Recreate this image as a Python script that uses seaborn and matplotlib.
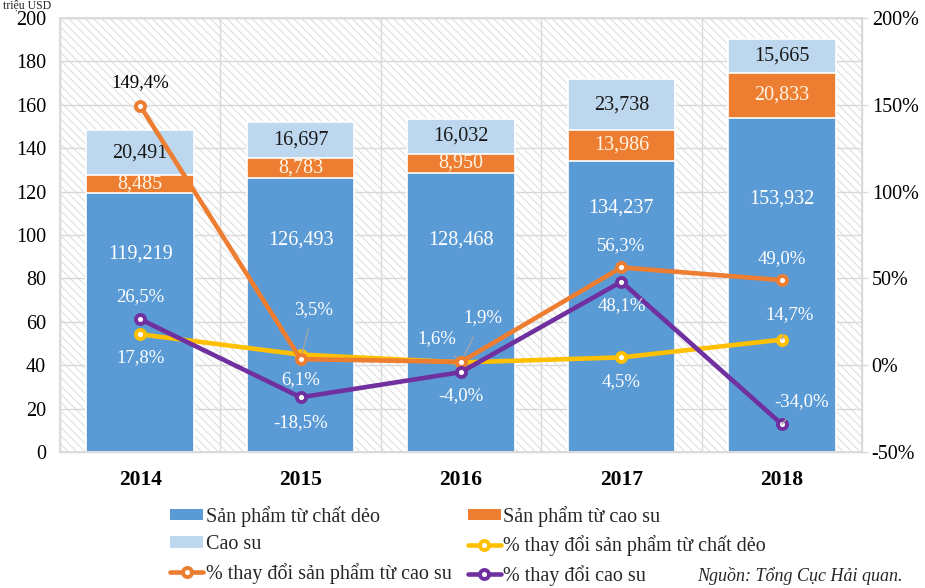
import numpy as np
import pandas as pd
import matplotlib
matplotlib.use("Agg")
import matplotlib.pyplot as plt
from matplotlib.patches import Rectangle, Patch
from matplotlib.lines import Line2D
import seaborn as sns

# ---------------- data ----------------
years = ["2014", "2015", "2016", "2017", "2018"]
plastic_products = [119.219, 126.493, 128.468, 134.237, 153.932]
rubber_products = [8.485, 8.783, 8.950, 13.986, 20.833]
rubber = [20.491, 16.697, 16.032, 23.738, 15.665]

pct_plastic_products = [17.8, 6.1, 1.6, 4.5, 14.7]
pct_rubber_products = [149.4, 3.5, 1.9, 56.3, 49.0]
pct_rubber = [26.5, -18.5, -4.0, 48.1, -34.0]

series_names = ["Sản phẩm từ chất dẻo", "Sản phẩm từ cao su", "Cao su",
                "% thay đổi sản phẩm từ chất dẻo", "% thay đổi sản phẩm từ cao su",
                "% thay đổi cao su"]
unit_label = "triệu USD"
source_note = "Nguồn: Tổng Cục Hải quan."

# ---------------- styling / placement ----------------
C_PLASTIC = "#5B9BD5"
C_RPROD = "#ED7D31"
C_RUBBER = "#BDD7EE"
C_Y = "#FFC000"
C_O = "#ED7D31"
C_P = "#7030A0"
GRID = "#d9d9d9"

# label y-position (data units) for the plastics segment labels
plastic_label_y = [91.2, 97.7, 97.7, 112.4, 116.6]
# offsets (pixels) of the line labels and whether a leader line is drawn
off_y = [(0, -23, False), (0, -25, False), (-24, 24, True), (0, -24, False), (8, 25, True)]
off_o = [(0, 23, False), (13, 50, True), (22, 44, True), (0, 22, False), (0, 22, False)]
off_p = [(0, 23, False), (0, -25, False), (0, -23, False), (0, -24, False), (20, 23, True)]
pct_label_colors_o = ["black", "white", "white", "white", "white"]

sns.set_theme(style="white")
plt.rcParams["font.family"] = ["Liberation Serif", "DejaVu Serif"]
plt.rcParams["hatch.linewidth"] = 0.7

fig = plt.figure(figsize=(9.25, 5.88), dpi=100)
ax = fig.add_axes([60 / 925, 1 - 452 / 588, 802 / 925, 434 / 588])

# hatched plot background
ax.add_patch(Rectangle((0, 0), 1, 1, transform=ax.transAxes, facecolor="white",
                       edgecolor="#dcdcdc", hatch="\\\\\\\\", lw=0, zorder=0))

x = np.arange(len(years))
tot2 = np.array(plastic_products) + np.array(rubber_products)
tot3 = tot2 + np.array(rubber)

df = pd.DataFrame({"year": years, "p": plastic_products, "t2": tot2, "t3": tot3})
bw = 0.67
sns.barplot(data=df, x="year", y="t3", color=C_RUBBER, saturation=1, width=bw,
            edgecolor="white", linewidth=1.2, ax=ax, zorder=2)
sns.barplot(data=df, x="year", y="t2", color=C_RPROD, saturation=1, width=bw,
            edgecolor="white", linewidth=1.2, ax=ax, zorder=2)
sns.barplot(data=df, x="year", y="p", color=C_PLASTIC, saturation=1, width=bw,
            edgecolor="white", linewidth=1.2, ax=ax, zorder=2)

def fmt3(v):
    return f"{v:.3f}".replace(".", ",")

for i in range(len(years)):
    ax.text(x[i], plastic_label_y[i], fmt3(plastic_products[i]), ha="center", va="center",
            color="white", fontsize=14.5, zorder=3)
    ax.text(x[i], plastic_products[i] + rubber_products[i] / 2, fmt3(rubber_products[i]),
            ha="center", va="center", color="#fff5e6", fontsize=14.5, zorder=3)
    ax.text(x[i], tot2[i] + rubber[i] / 2, fmt3(rubber[i]), ha="center", va="center",
            color="#1a1a1a", fontsize=14.5, zorder=3)

ax.set_xlim(-0.5, len(years) - 0.5)
ax.set_ylim(0, 200)
ax.set_yticks(np.arange(0, 201, 20))
ax.set_xticks(x)
ax.set_xticklabels(years, fontweight="bold", fontsize=15.5)
ax.set_xticks(np.arange(-0.5, len(years), 1), minor=True)
ax.set_axisbelow(True)
ax.grid(True, axis="y", which="major", color=GRID, lw=1, zorder=1)
ax.grid(True, axis="x", which="minor", color=GRID, lw=1, zorder=1)
ax.grid(False, axis="x", which="major")
ax.tick_params(axis="y", labelsize=14.5, length=0, pad=10, colors="black")
ax.tick_params(axis="x", which="major", length=0, pad=13, colors="black")
ax.tick_params(axis="x", which="minor", length=0)
ax.set_xlabel("")
ax.set_ylabel("")
for s in ax.spines.values():
    s.set_color(GRID)
    s.set_linewidth(1)

# ---------------- lines on secondary axis ----------------
ax2 = ax.twinx()
line_specs = [(pct_plastic_products, C_Y, off_y, ["white"] * 5),
              (pct_rubber_products, C_O, off_o, pct_label_colors_o),
              (pct_rubber, C_P, off_p, ["white"] * 5)]
for k, (vals, col, offs, tcols) in enumerate(line_specs):
    sns.lineplot(x=x, y=vals, color=col, lw=3.3, marker="o", markersize=6.5,
                 markerfacecolor="white", markeredgecolor=col, markeredgewidth=2.8,
                 ax=ax2, zorder=4 + k)
    for i, v in enumerate(vals):
        dx, dy, lead = offs[i]
        ap = dict(arrowstyle="-", color="#a6a6a6", lw=0.9, shrinkA=6, shrinkB=5) if lead else None
        ax2.annotate(f"{v:.1f}%".replace(".", ","), xy=(x[i], v), xytext=(dx, dy),
                     textcoords="offset pixels", ha="center", va="center",
                     fontsize=13.5, color=tcols[i], arrowprops=ap, zorder=10)

ax2.set_ylim(-50, 200)
ax2.set_yticks(np.arange(-50, 201, 50))
ax2.set_yticklabels([f"{t}%" for t in range(-50, 201, 50)])
ax2.tick_params(axis="y", labelsize=14.5, length=4, width=1, pad=3, labelcolor="black", color=GRID)
ax2.set_xlabel("")
ax2.set_ylabel("")
ax2.grid(False)
for s in ax2.spines.values():
    s.set_color(GRID)

# ---------------- legend ----------------
handles = [
    Patch(facecolor=C_PLASTIC, edgecolor="none"),
    Patch(facecolor=C_RUBBER, edgecolor="none"),
    Line2D([0], [0], color=C_O, lw=3.3, marker="o", ms=6.5, mfc="white", mec=C_O, mew=2.8),
    Patch(facecolor=C_RPROD, edgecolor="none"),
    Line2D([0], [0], color=C_Y, lw=3.3, marker="o", ms=6.5, mfc="white", mec=C_Y, mew=2.8),
    Line2D([0], [0], color=C_P, lw=3.3, marker="o", ms=6.5, mfc="white", mec=C_P, mew=2.8),
]
labels = [series_names[0], series_names[2], series_names[4],
          series_names[1], series_names[3], series_names[5]]
leg = fig.legend(handles, labels, ncol=2, loc="upper left",
                 bbox_to_anchor=(170 / 925, 1 - 506 / 588), frameon=False,
                 fontsize=14.5, handlelength=1.65, handleheight=0.5, handletextpad=0.12,
                 columnspacing=0.8, labelspacing=0.42, borderpad=0, borderaxespad=0)

fig.text(697 / 925, 1 - 576 / 588, source_note, ha="left", va="center",
         fontsize=13, style="italic")
fig.text(3 / 925, 1.0, unit_label, ha="left", va="top", fontsize=8.5)

fig.savefig("out.png", dpi=100)
